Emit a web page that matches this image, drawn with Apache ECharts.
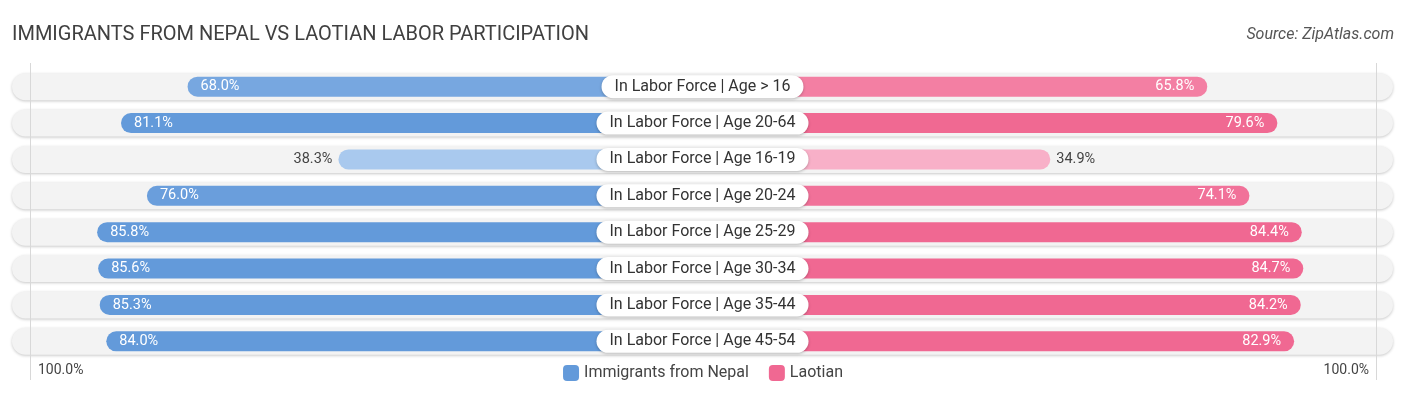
<!DOCTYPE html>
<html>
<head>
<meta charset="utf-8">
<script src="https://cdn.jsdelivr.net/npm/echarts@6/dist/echarts.min.js"></script>
<style>
html,body{margin:0;padding:0;background:#fff;}
#c{width:1406px;height:395px;}
</style>
</head>
<body>
<div id="c"></div>
<script>
const categories = [
  'In Labor Force | Age > 16',
  'In Labor Force | Age 20-64',
  'In Labor Force | Age 16-19',
  'In Labor Force | Age 20-24',
  'In Labor Force | Age 25-29',
  'In Labor Force | Age 30-34',
  'In Labor Force | Age 35-44',
  'In Labor Force | Age 45-54'
];
const nepal = [68.0, 81.1, 38.3, 76.0, 85.8, 85.6, 85.3, 84.0];
const laotian = [65.8, 79.6, 34.9, 74.1, 84.4, 84.7, 84.2, 82.9];
const seriesNames = ['Immigrants from Nepal', 'Laotian'];
const edgeLabels = ['100.0%', '100.0%'];

// layout
const CENTER = 703;
const PX_PER = 5.08;            // pixels per percentage point
const HALF_W = 678;             // width of each half grid
const AXIS_MAX = HALF_W / PX_PER;
const OFFSET = 170 / PX_PER;    // room under the centre label (bars start at the centre)
const TOP = 68.5, HEIGHT = 291;

const BLUE = [99, 154, 218], BLUE_L = [183, 210, 242];
const PINK = [240, 104, 146], PINK_L = [249, 184, 206];
function mix(a, b, t) {
  const c = a.map((v, i) => Math.round(b[i] + (v - b[i]) * t));
  return 'rgb(' + c.join(',') + ')';
}
function shade(v, strong, light) {
  let t = (v - 30) / 50; t = Math.max(0, Math.min(1, t));
  return mix(strong, light, t);
}
const INSIDE_MIN = 50;

function barData(vals, strong, light, side) {
  return vals.map(v => {
    const c = shade(v, strong, light);
    const inside = v >= INSIDE_MIN;
    return {
      value: OFFSET + v,
      raw: v,
      itemStyle: { color: c },
      label: inside
        ? { position: side === 'left' ? 'insideLeft' : 'insideRight', color: '#fff', distance: 13 }
        : { position: side === 'left' ? 'left' : 'right', color: '#444', distance: 6 }
    };
  });
}

const chart = echarts.init(document.getElementById('c'), null, { renderer: 'canvas' });
const FONT = 'Roboto, "Noto Sans", sans-serif';

const catAxis = (gi) => ({
  type: 'category', gridIndex: gi, data: categories, inverse: true,
  axisLine: { show: false }, axisTick: { show: false }, axisLabel: { show: false }
});

chart.setOption({
  animation: false,
  title: [
    { text: 'IMMIGRANTS FROM NEPAL VS LAOTIAN LABOR PARTICIPATION', left: 7, top: 20,
      textStyle: { fontFamily: FONT, fontSize: 20, fontWeight: 'normal', color: '#404040' } },
    { text: 'Source: ZipAtlas.com', right: 7, top: 22,
      textStyle: { fontFamily: FONT, fontSize: 16, fontWeight: 'normal', fontStyle: 'italic', color: '#555' } }
  ],
  legend: {
    data: seriesNames, top: 360, left: 'center', itemWidth: 16, itemHeight: 16, itemGap: 20,
    icon: 'roundRect', selectedMode: false,
    textStyle: { fontFamily: FONT, fontSize: 16, color: '#444' }
  },
  grid: [
    { left: 12, right: 13, top: TOP, height: HEIGHT },
    { left: CENTER - HALF_W, width: HALF_W, top: TOP, height: HEIGHT },
    { left: CENTER, width: HALF_W, top: TOP, height: HEIGHT }
  ],
  xAxis: [
    { type: 'value', gridIndex: 0, min: 0, max: 1, show: false },
    { type: 'value', gridIndex: 1, min: 0, max: AXIS_MAX, inverse: true, show: false },
    { type: 'value', gridIndex: 2, min: 0, max: AXIS_MAX, show: false }
  ],
  yAxis: [catAxis(0), catAxis(1), catAxis(2)],
  graphic: [
    { type: 'line', z: 3, shape: { x1: 30.5, y1: 63, x2: 30.5, y2: 380 }, style: { stroke: '#d8d8d8', lineWidth: 1 } },
    { type: 'line', z: 3, shape: { x1: 1376.5, y1: 63, x2: 1376.5, y2: 380 }, style: { stroke: '#d8d8d8', lineWidth: 1 } },
    { type: 'text', z: 5, left: 38, top: 363, style: { text: edgeLabels[0], font: '14px ' + FONT, fill: '#444' } },
    { type: 'text', z: 5, right: 37, top: 363, style: { text: edgeLabels[1], font: '14px ' + FONT, fill: '#444', textAlign: 'right' } }
  ],
  series: [
    { // background track
      type: 'bar', xAxisIndex: 0, yAxisIndex: 0, z: 1, silent: true,
      data: categories.map(() => 1), barWidth: 27, barGap: '-100%',
      itemStyle: { color: '#f3f3f3', borderRadius: 13.5, shadowColor: 'rgba(0,0,0,0.22)', shadowBlur: 3, shadowOffsetY: 1 }
    },
    { // centre labels
      type: 'bar', xAxisIndex: 0, yAxisIndex: 0, z: 6, silent: true,
      data: categories.map(() => 1), barWidth: 27, barGap: '-100%',
      itemStyle: { color: 'rgba(0,0,0,0)' },
      label: {
        show: true, position: 'inside', formatter: p => p.name,
        fontFamily: FONT, fontSize: 16, color: '#333',
        backgroundColor: '#fff', borderRadius: 12, padding: [4, 13, 3, 13],
        shadowColor: 'rgba(0,0,0,0.25)', shadowBlur: 3, shadowOffsetY: 1
      }
    },
    {
      type: 'bar', name: seriesNames[0], xAxisIndex: 1, yAxisIndex: 1, z: 2,
      barWidth: 20, itemStyle: { color: 'rgb(99,154,218)', borderRadius: [10, 0, 0, 10] },
      label: { show: true, fontFamily: FONT, fontSize: 14.5, formatter: p => p.data.raw.toFixed(1) + '%' },
      data: barData(nepal, BLUE, BLUE_L, 'left')
    },
    {
      type: 'bar', name: seriesNames[1], xAxisIndex: 2, yAxisIndex: 2, z: 2,
      barWidth: 20, itemStyle: { color: 'rgb(240,104,146)', borderRadius: [0, 10, 10, 0] },
      label: { show: true, fontFamily: FONT, fontSize: 14.5, formatter: p => p.data.raw.toFixed(1) + '%' },
      data: barData(laotian, PINK, PINK_L, 'right')
    }
  ]
});
</script>
</body>
</html>
